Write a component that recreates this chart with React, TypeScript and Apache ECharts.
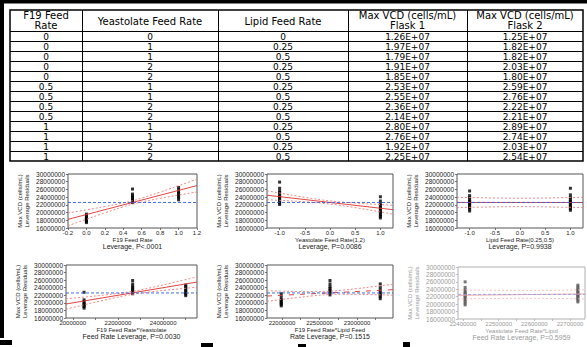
import React, { useEffect, useRef } from "react";
import * as echarts from "echarts";

// ---------------- table data ----------------
const TABLE_HEADERS: string[][] = [
  ["F19 Feed", "Rate"],
  ["Yeastolate Feed Rate"],
  ["Lipid Feed Rate"],
  ["Max VCD (cells/mL)", "Flask 1"],
  ["Max VCD (cells/mL)", "Flask 2"],
];
const F19_RATE = [0, 0, 0, 0, 0, 0.5, 0.5, 0.5, 0.5, 1, 1, 1, 1];
const YEAST_RATE = [0, 1, 1, 2, 2, 1, 1, 2, 2, 1, 1, 2, 2];
const LIPID_RATE = [0, 0.25, 0.5, 0.25, 0.5, 0.25, 0.5, 0.25, 0.5, 0.25, 0.5, 0.25, 0.5];
const VCD_FLASK1 = [1.26e7, 1.97e7, 1.79e7, 1.91e7, 1.85e7, 2.53e7, 2.55e7, 2.36e7, 2.14e7, 2.8e7, 2.76e7, 1.92e7, 2.25e7];
const VCD_FLASK2 = [1.25e7, 1.82e7, 1.82e7, 2.03e7, 1.8e7, 2.59e7, 2.76e7, 2.22e7, 2.21e7, 2.89e7, 2.74e7, 2.03e7, 2.54e7];

// ---------------- leverage plots (values in millions of cells/mL) ----------------
const MEAN_VCD_M = 22.62;
const Y_TITLE = ["Max VCD (cells/mL)", "Leverage Residuals"];
const X_TITLES = [
  ["F19 Feed Rate", "Leverage, P<.0001"],
  ["Yeastolate Feed Rate(1,2)", "Leverage, P=0.0086"],
  ["Lipid Feed Rate(0.25,0.5)", "Leverage, P=0.9938"],
  ["F19 Feed Rate*Yeastolate", "Feed Rate Leverage, P=0.0030"],
  ["F19 Feed Rate*Lipid Feed", "Rate Leverage, P=0.1515"],
  ["Yeastolate Feed Rate*Lipid", "Feed Rate Leverage, P=0.5959"],
];

// panel 1: F19 Feed Rate
const F19_LEVELS = [0, 0.5, 1];
const F19_RESID = [
  [17.4, 17.7, 18.0, 18.3, 18.5, 18.8, 19.1, 19.6],
  [22.6, 23.0, 23.3, 23.6, 24.0, 24.3, 24.8, 26.1],
  [23.3, 23.8, 24.2, 24.6, 25.0, 25.4, 25.9, 26.5],
];
const F19_FIT_X = [-0.2, 1.2];
const F19_FIT_Y = [18.24, 27.0];
const F19_CI_X = [-0.2, 0, 0.2, 0.4, 0.5, 0.6, 0.8, 1.0, 1.2];
const F19_CI_UP = [19.89, 20.71, 21.56, 22.49, 23.07, 23.75, 25.32, 26.97, 28.65];
const F19_CI_LO = [16.59, 18.27, 19.93, 21.49, 22.17, 22.75, 23.69, 24.53, 25.35];

// panel 2: Yeastolate Feed Rate (coded)
const YEAST_LEVELS = [-1, 1];
const YEAST_RESID = [
  [22.1, 22.5, 22.9, 23.3, 23.7, 24.0, 24.4, 24.8, 25.2, 25.6, 26.3, 27.9],
  [18.6, 19.0, 19.4, 19.8, 20.2, 20.6, 21.0, 21.4, 21.8, 22.3, 23.0, 24.1],
];
const YEAST_FIT_X = [-1.25, 1.25];
const YEAST_FIT_Y = [24.5, 20.75];
const YEAST_CI_X = [-1.25, -1, -0.5, 0, 0.5, 1, 1.25];
const YEAST_CI_UP = [25.65, 25.07, 23.96, 23.02, 22.46, 22.07, 21.9];
const YEAST_CI_LO = [23.35, 23.17, 22.78, 22.22, 21.28, 20.17, 19.6];

// panel 3: Lipid Feed Rate (coded)
const LIPID_LEVELS = [-1, 1];
const LIPID_RESID = [
  [20.4, 20.9, 21.3, 21.7, 22.0, 22.3, 22.6, 22.9, 23.3, 23.8, 24.4, 25.6],
  [20.6, 21.0, 21.4, 21.7, 22.0, 22.4, 22.7, 23.0, 23.4, 23.9, 24.6, 26.3],
];
const LIPID_FIT_X = [-1.25, 1.25];
const LIPID_FIT_Y = [22.63, 22.61];
const LIPID_CI_X = [-1.25, -0.5, 0, 0.5, 1.25];
const LIPID_CI_UP = [23.95, 23.78, 23.72, 23.78, 23.95];
const LIPID_CI_LO = [21.3, 21.47, 21.53, 21.47, 21.3];

// panel 4: F19 * Yeastolate
const FY_LEVELS = [20.5, 22.65, 25.0];
const FY_RESID = [
  [18.6, 19.0, 19.3, 19.6, 19.9, 20.3, 20.8, 22.8],
  [22.4, 22.8, 23.2, 23.6, 24.0, 24.4, 25.0, 25.9],
  [21.9, 22.3, 22.7, 23.1, 23.5, 23.9, 24.3, 24.7],
];
const FY_FIT_X = [19.7, 25.5];
const FY_FIT_Y = [19.7, 25.5];
const FY_CI_X = [19.7, 20.5, 21.5, 22.62, 23.5, 24.5, 25.5];
const FY_CI_UP = [21.07, 21.53, 22.14, 23.02, 24.06, 25.44, 26.85];
const FY_CI_LO = [18.33, 19.47, 20.86, 22.22, 22.94, 23.56, 24.15];

// panel 5: F19 * Lipid
const FL_LEVELS = [21.99, 22.64, 23.31];
const FL_RESID = [
  [19.2, 19.6, 19.9, 20.2, 20.5, 20.9, 21.6, 22.4],
  [22.1, 22.6, 23.0, 23.4, 23.8, 24.3, 25.0, 25.9],
  [21.1, 21.6, 22.0, 22.4, 22.8, 23.4, 24.1, 25.0],
];
const FL_FIT_X = [21.8, 23.48];
const FL_FIT_Y = [21.8, 23.48];
const FL_CI_X = [21.8, 22.0, 22.2, 22.4, 22.62, 22.8, 23.0, 23.2, 23.48];
const FL_CI_UP = [23.19, 23.09, 23.01, 22.97, 23.07, 23.33, 23.76, 24.23, 24.93];
const FL_CI_LO = [20.41, 20.91, 21.39, 21.83, 22.17, 22.27, 22.24, 22.17, 22.03];

// panel 6: Yeastolate * Lipid
const YL_LEVELS = [22.406, 22.722];
const YL_RESID = [
  [19.8, 20.3, 20.8, 21.3, 21.7, 22.1, 22.5, 22.9, 23.3, 23.8, 24.5, 26.0],
  [20.6, 21.1, 21.5, 21.9, 22.3, 22.6, 22.9, 23.3, 23.7, 24.1, 24.6, 25.1],
];
const YL_FIT_X = [22.386, 22.742];
const YL_FIT_Y = [22.386, 22.742];
const YL_CI_X = [22.386, 22.5, 22.564, 22.65, 22.742];
const YL_CI_UP = [23.85, 23.72, 23.68, 23.72, 23.85];
const YL_CI_LO = [21.4, 21.53, 21.57, 21.53, 21.4];

// ---------------- layout / style ----------------
const FONT = '"Liberation Sans", Arial, sans-serif';
const TABLE_FONT = '"DejaVu Sans", Verdana, sans-serif';
const COL_X = [10, 82, 218, 348, 467, 583];
const TABLE_TOP = 10;
const HEADER_H = 21;
const ROW_H = 10;

const GRID_BOXES = [
  [68, 174, 129, 54],
  [267, 174, 126, 54],
  [457, 174, 126, 54],
  [66, 265, 131, 53],
  [267, 265, 126, 53],
  [458, 267, 127, 52],
];

type AxisCfg = { min: number; max: number; labels: number[]; ticks: number[]; big?: boolean };
const X_AXES: AxisCfg[] = [
  { min: -0.2, max: 1.2, labels: [-0.2, 0, 0.2, 0.4, 0.6, 0.8, 1.0, 1.2], ticks: [-0.2, 0, 0.2, 0.4, 0.6, 0.8, 1.0, 1.2] },
  { min: -1.25, max: 1.25, labels: [-1, -0.5, 0, 0.5, 1], ticks: [-1, -0.5, 0, 0.5, 1] },
  { min: -1.25, max: 1.25, labels: [-1, -0.5, 0, 0.5, 1], ticks: [-1, -0.5, 0, 0.5, 1] },
  { min: 19.7, max: 25.5, labels: [20, 22, 24], ticks: [20, 21, 22, 23, 24, 25], big: true },
  { min: 21.8, max: 23.48, labels: [22, 22.5, 23], ticks: [22, 22.25, 22.5, 22.75, 23, 23.25], big: true },
  { min: 22.386, max: 22.742, labels: [22.4, 22.5, 22.6, 22.7], ticks: [22.4, 22.45, 22.5, 22.55, 22.6, 22.65, 22.7], big: true },
];

const PANELS = [
  { levels: F19_LEVELS, resid: F19_RESID, fitX: F19_FIT_X, fitY: F19_FIT_Y, ciX: F19_CI_X, ciUp: F19_CI_UP, ciLo: F19_CI_LO },
  { levels: YEAST_LEVELS, resid: YEAST_RESID, fitX: YEAST_FIT_X, fitY: YEAST_FIT_Y, ciX: YEAST_CI_X, ciUp: YEAST_CI_UP, ciLo: YEAST_CI_LO },
  { levels: LIPID_LEVELS, resid: LIPID_RESID, fitX: LIPID_FIT_X, fitY: LIPID_FIT_Y, ciX: LIPID_CI_X, ciUp: LIPID_CI_UP, ciLo: LIPID_CI_LO },
  { levels: FY_LEVELS, resid: FY_RESID, fitX: FY_FIT_X, fitY: FY_FIT_Y, ciX: FY_CI_X, ciUp: FY_CI_UP, ciLo: FY_CI_LO },
  { levels: FL_LEVELS, resid: FL_RESID, fitX: FL_FIT_X, fitY: FL_FIT_Y, ciX: FL_CI_X, ciUp: FL_CI_UP, ciLo: FL_CI_LO },
  { levels: YL_LEVELS, resid: YL_RESID, fitX: YL_FIT_X, fitY: YL_FIT_Y, ciX: YL_CI_X, ciUp: YL_CI_UP, ciLo: YL_CI_LO },
];

const NORMAL = { text: "#222", frame: "#555", point: "#000", fit: "#e0302a", ci: "#f07a7a", mean: "#2f5fe0" };
const MUTED = { text: "#9a9a9a", frame: "#b0b0b0", point: "#555", fit: "#f09a9a", ci: "#f4baba", mean: "#8fa4e8" };

const fmtRate = (v: number) => String(v);
const fmtSci = (v: number) => {
  const [m, e] = v.toExponential(2).split("e");
  const ex = parseInt(e, 10);
  return `${m}E${ex >= 0 ? "+" : "-"}${String(Math.abs(ex)).padStart(2, "0")}`;
};

function textEl(text: string, x: number, y: number, font: string, fill = "#000") {
  return {
    type: "text",
    silent: true,
    style: { text, x, y, font, fill, align: "center", verticalAlign: "middle", textAlign: "center", textVerticalAlign: "middle" },
  };
}
function lineEl(x1: number, y1: number, x2: number, y2: number, w = 1) {
  return { type: "line", silent: true, shape: { x1, y1, x2, y2 }, style: { stroke: "#000", lineWidth: w } };
}

function tableGraphics() {
  const els: any[] = [];
  const n = F19_RATE.length;
  const bottom = TABLE_TOP + HEADER_H + n * ROW_H;
  els.push({ type: "rect", silent: true, shape: { x: COL_X[0], y: TABLE_TOP, width: COL_X[5] - COL_X[0], height: bottom - TABLE_TOP }, style: { fill: "#fff", stroke: "#000", lineWidth: 1.5 } });
  const ys = [TABLE_TOP + HEADER_H];
  for (let r = 1; r < n; r++) ys.push(TABLE_TOP + HEADER_H + r * ROW_H);
  ys.forEach((y) => els.push(lineEl(COL_X[0], Math.round(y) + 0.5, COL_X[5], Math.round(y) + 0.5, 1)));
  COL_X.slice(1, 5).forEach((x) => els.push(lineEl(x + 0.5, TABLE_TOP, x + 0.5, bottom, 1)));
  TABLE_HEADERS.forEach((lines, c) => {
    const cx = (COL_X[c] + COL_X[c + 1]) / 2;
    if (lines.length === 2) {
      els.push(textEl(lines[0], cx, TABLE_TOP + 5.2, `10px ${TABLE_FONT}`));
      els.push(textEl(lines[1], cx, TABLE_TOP + 15.8, `10px ${TABLE_FONT}`));
    } else {
      els.push(textEl(lines[0], cx, TABLE_TOP + HEADER_H / 2 + 0.5, `10px ${TABLE_FONT}`));
    }
  });
  for (let r = 0; r < n; r++) {
    const vals = [fmtRate(F19_RATE[r]), fmtRate(YEAST_RATE[r]), fmtRate(LIPID_RATE[r]), fmtSci(VCD_FLASK1[r]), fmtSci(VCD_FLASK2[r])];
    const cy = TABLE_TOP + HEADER_H + r * ROW_H + ROW_H / 2 + 0.5;
    vals.forEach((t, c) => els.push(textEl(t, (COL_X[c] + COL_X[c + 1]) / 2, cy, `9px ${TABLE_FONT}`)));
  }
  return els;
}

function frameGraphics() {
  const blk = (x: number, y: number, w: number, h: number) => ({ type: "rect", silent: true, shape: { x, y, width: w, height: h }, style: { fill: "#000" } });
  return [blk(0, 0, 587, 3.5), blk(0, 0, 4, 338), blk(0, 340, 12, 5), blk(201, 343, 12, 4), blk(298, 344, 8, 3), blk(403, 342, 7, 5)];
}

function buildOption() {
  const grid = GRID_BOXES.map((b, i) => ({
    left: b[0], top: b[1], width: b[2], height: b[3], show: true,
    borderColor: i === 5 ? MUTED.frame : NORMAL.frame, borderWidth: 1, backgroundColor: "transparent",
  }));
  const xAxis = X_AXES.map((ax, i) => {
    const col = i === 5 ? MUTED : NORMAL;
    const fmt = ax.big ? (v: number) => String(Math.round(v * 1e6)) : (v: number) => v.toFixed(1);
    const t = X_TITLES[i];
    return {
      type: "value", gridIndex: i, min: ax.min, max: ax.max, position: "bottom",
      axisLine: { show: false, onZero: false }, splitLine: { show: false },
      axisTick: { show: true, length: 2, lineStyle: { color: col.frame, width: 0.8 }, customValues: ax.ticks },
      axisLabel: { fontSize: 6, margin: 2, color: col.text, fontFamily: FONT, formatter: fmt, customValues: ax.labels },
      name: `{a|${t[0]}}\n{b|${t[1]}}`, nameLocation: "middle", nameGap: 7.5,
      nameTextStyle: {
        color: col.text, fontFamily: FONT,
        rich: { a: { fontSize: 6, lineHeight: 6.5, color: col.text, fontFamily: FONT }, b: { fontSize: 7, lineHeight: 7.5, color: col.text, fontFamily: FONT } },
      },
    };
  });
  const yAxis = GRID_BOXES.map((_, i) => {
    const col = i === 5 ? MUTED : NORMAL;
    return {
      type: "value", gridIndex: i, min: 16, max: 30, interval: 2, position: "left",
      axisLine: { show: false, onZero: false }, splitLine: { show: false },
      axisTick: { show: true, length: 2, lineStyle: { color: col.frame, width: 0.8 } },
      axisLabel: { fontSize: 6.5, margin: 3, color: col.text, fontFamily: FONT, formatter: (v: number) => String(Math.round(v * 1e6)) },
      name: `{a|${Y_TITLE[0]}}\n{a|${Y_TITLE[1]}}`, nameLocation: "middle", nameRotate: 90, nameGap: 38,
      nameTextStyle: { color: col.text, fontFamily: FONT, rich: { a: { fontSize: 6, lineHeight: 7, color: col.text, fontFamily: FONT } } },
    };
  });
  const series: any[] = [];
  PANELS.forEach((p, i) => {
    const col = i === 5 ? MUTED : NORMAL;
    const ax = X_AXES[i];
    const base = { xAxisIndex: i, yAxisIndex: i, silent: true, animation: false };
    series.push({
      ...base, type: "scatter", symbol: "rect", symbolSize: 3, itemStyle: { color: col.point }, z: 3,
      data: p.levels.flatMap((lv, g) => p.resid[g].map((v) => [lv, v])),
    });
    const ln = (xs: number[], ys: number[], color: string, type: any, z: number, smooth = false) => ({
      ...base, type: "line", showSymbol: false, symbol: "none", smooth, z,
      lineStyle: { color, width: 0.9, type }, data: xs.map((x, k) => [x, ys[k]]),
    });
    series.push(ln(p.ciX, p.ciUp, col.ci, [2, 2], 4, true));
    series.push(ln(p.ciX, p.ciLo, col.ci, [2, 2], 4, true));
    series.push(ln(p.fitX, p.fitY, col.fit, i === 4 ? [5, 6] : "solid", 5));
    series.push(ln([ax.min, ax.max], [MEAN_VCD_M, MEAN_VCD_M], col.mean, [3, 2], 6));
  });
  return {
    animation: false,
    backgroundColor: "#fff",
    textStyle: { fontFamily: FONT },
    grid, xAxis, yAxis, series,
    graphic: { elements: [...tableGraphics(), ...frameGraphics()] },
  };
}

export default function App() {
  const ref = useRef<HTMLDivElement>(null);
  useEffect(() => {
    if (!ref.current) return;
    const chart = echarts.init(ref.current, null, { renderer: "svg" });
    chart.setOption(buildOption() as any);
    return () => chart.dispose();
  }, []);
  return <div ref={ref} style={{ position: "fixed", left: 0, top: 0, width: 587, height: 347, background: "#fff" }} />;
}
